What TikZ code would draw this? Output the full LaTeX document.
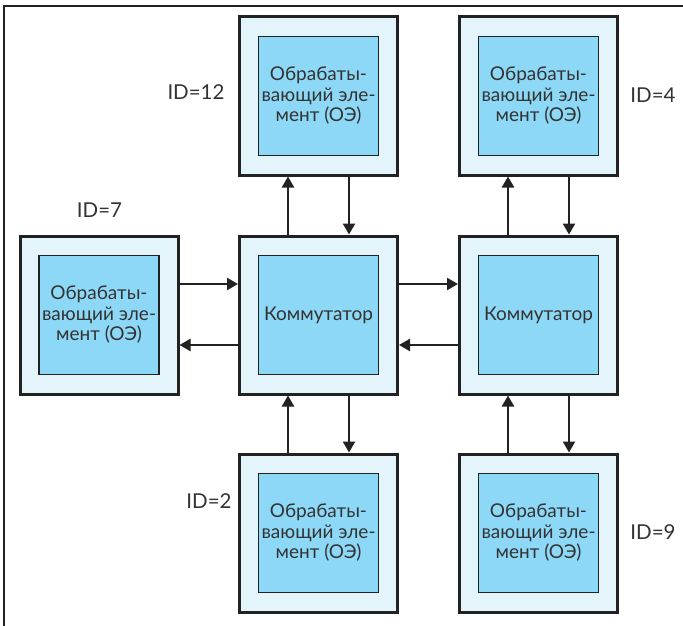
\documentclass[tikz,border=0pt]{standalone}
\usepackage{fontspec}
\setmainfont{Lato}
\usetikzlibrary{arrows.meta}
\definecolor{outerfill}{HTML}{E3F4FB}
\definecolor{innerfill}{HTML}{8DD8F6}
\definecolor{ink}{HTML}{222222}
\definecolor{txt}{HTML}{333333}
\tikzset{
  unit/.style={draw=ink, line width=3pt, fill=outerfill, minimum width=158pt, minimum height=158pt, inner sep=0pt},
  core/.style={draw=ink, line width=1.6pt, fill=innerfill, minimum width=120pt, minimum height=119pt,
    inner sep=0pt, align=center, text=txt, font=\fontsize{19}{20.5}\selectfont},
  idlabel/.style={text=txt, font=\fontsize{20.5}{22}\selectfont, inner sep=0pt},
  link/.style={draw=ink, line width=2.4pt, -{Triangle[length=11pt,width=12pt]}},
}
\begin{document}
\begin{tikzpicture}[x=1pt,y=-1pt]
\useasboundingbox (0,0) rectangle (683,626);
% frame lines
\draw[ink, line width=1.5pt] (683,6) -- (4,6) -- (4,626);

% outer units
\node[unit] (pe12) at (318.5,96) {};
\node[unit] (pe4)  at (538.5,96) {};
\node[unit] (pe7)  at (99,315) {};
\node[unit] (sw1)  at (318.5,315) {};
\node[unit] (sw2)  at (538.5,315) {};
\node[unit] (pe2)  at (318.5,533) {};
\node[unit] (pe9)  at (538.5,533) {};

% inner blocks
\node[core] (pe12c) at (pe12) {Обрабаты-\\вающий эле-\\мент (ОЭ)};
\node[core] (pe4c)  at (pe4)  {Обрабаты-\\вающий эле-\\мент (ОЭ)};
\node[core] (pe7c)  at (pe7)  {Обрабаты-\\вающий эле-\\мент (ОЭ)};
\node[core] (sw1c)  at (sw1)  {Коммутатор};
\node[core] (sw2c)  at (sw2)  {Коммутатор};
\node[core] (pe2c)  at (pe2)  {Обрабаты-\\вающий эле-\\мент (ОЭ)};
\node[core] (pe9c)  at (pe9)  {Обрабаты-\\вающий эле-\\мент (ОЭ)};

% identifiers
\node[idlabel] (id12) at (196,92) {ID=12};
\node[idlabel] (id4)  at (653,95) {ID=4};
\node[idlabel] (id7)  at (99.5,210) {ID=7};
\node[idlabel] (id2)  at (209,501) {ID=2};
\node[idlabel] (id9)  at (653,532) {ID=9};

% vertical links
\draw[link] ([xshift=-30.5pt]sw1.north) -- ([xshift=-30.5pt]pe12.south);
\draw[link] ([xshift=30.5pt]pe12.south) -- ([xshift=30.5pt]sw1.north);
\draw[link] ([xshift=-30.5pt]sw2.north) -- ([xshift=-30.5pt]pe4.south);
\draw[link] ([xshift=30.5pt]pe4.south) -- ([xshift=30.5pt]sw2.north);
\draw[link] ([xshift=-30.5pt]pe2.north) -- ([xshift=-30.5pt]sw1.south);
\draw[link] ([xshift=30.5pt]sw1.south) -- ([xshift=30.5pt]pe2.north);
\draw[link] ([xshift=-30.5pt]pe9.north) -- ([xshift=-30.5pt]sw2.south);
\draw[link] ([xshift=30.5pt]sw2.south) -- ([xshift=30.5pt]pe9.north);

% horizontal links
\draw[link] ([yshift=31pt]pe7.east) -- ([yshift=31pt]sw1.west);
\draw[link] ([yshift=-30pt]sw1.west) -- ([yshift=-30pt]pe7.east);
\draw[link] ([yshift=31pt]sw1.east) -- ([yshift=31pt]sw2.west);
\draw[link] ([yshift=-30pt]sw2.west) -- ([yshift=-30pt]sw1.east);
\end{tikzpicture}
\end{document}
